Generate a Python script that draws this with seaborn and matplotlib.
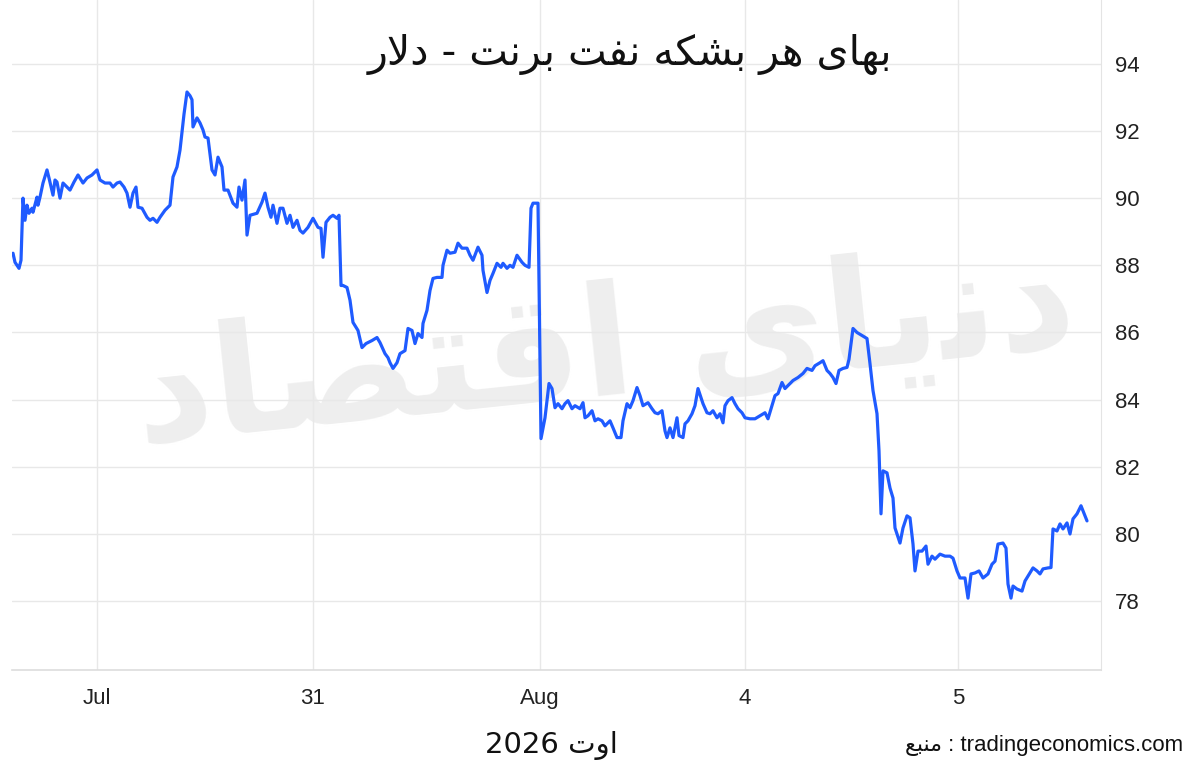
import matplotlib
matplotlib.use("Agg")
import matplotlib.pyplot as plt
import seaborn as sns
import pandas as pd

# ---- data ----
t_index = [13, 15, 19, 21, 23, 25, 27, 29, 32, 33, 37, 38, 40, 43, 47, 49, 53, 55, 57, 60,
           63, 67, 70, 74, 78, 83, 87, 92, 97, 100, 105, 110, 113, 117, 120, 124, 127, 130, 133, 136,
           138, 142, 147, 150, 153, 157, 160, 165, 170, 173, 177, 180, 184, 187, 190, 192, 193, 197, 200, 203,
           205, 208, 212, 215, 218, 222, 224, 228, 233, 237, 239, 242, 245, 247, 250, 257, 262, 265, 268, 271,
           273, 277, 280, 283, 287, 290, 293, 297, 300, 303, 308, 313, 318, 321, 323, 326, 330, 333, 337, 339,
           341, 343, 347, 350, 353, 358, 362, 366, 372, 377, 380, 385, 388, 390, 393, 397, 400, 405, 408, 412,
           415, 418, 422, 423, 427, 430, 433, 437, 442, 443, 447, 450, 455, 458, 462, 467, 470, 473, 478, 482,
           483, 487, 490, 493, 497, 501, 503, 507, 510, 513, 517, 522, 525, 529, 531, 533, 538, 541, 545, 549,
           552, 555, 558, 562, 565, 568, 572, 575, 580, 583, 585, 588, 592, 595, 598, 602, 605, 610, 613, 617,
           621, 623, 627, 630, 633, 637, 640, 643, 648, 652, 655, 658, 662, 665, 667, 670, 673, 677, 679, 683,
           685, 688, 692, 695, 698, 701, 703, 707, 710, 713, 717, 720, 723, 725, 728, 732, 735, 738, 742, 745,
           750, 755, 760, 765, 768, 772, 775, 778, 782, 785, 788, 793, 798, 803, 807, 812, 815, 820, 823, 827,
           830, 833, 836, 839, 843, 847, 849, 853, 857, 862, 867, 870, 873, 877, 879, 881, 883, 887, 890, 893,
           895, 900, 903, 907, 910, 913, 915, 918, 922, 926, 928, 932, 935, 940, 945, 950, 953, 957, 960, 965,
           968, 971, 975, 979, 983, 988, 992, 995, 998, 1003, 1006, 1008, 1011, 1013, 1017, 1022, 1025, 1030, 1033, 1037,
           1040, 1043, 1048, 1051, 1053, 1057, 1060, 1063, 1067, 1070, 1073, 1077, 1081, 1083, 1087]

brent = [88.36, 88.09, 87.91, 88.15, 90.0, 89.34, 89.79, 89.55, 89.7, 89.58, 90.03, 89.79, 90.03, 90.45, 90.84, 90.6, 90.09, 90.54, 90.48, 90.0,
         90.45, 90.33, 90.24, 90.48, 90.69, 90.45, 90.6, 90.69, 90.84, 90.54, 90.45, 90.45, 90.33, 90.45, 90.48, 90.33, 90.15, 89.73, 90.15, 90.33,
         89.73, 89.7, 89.43, 89.34, 89.4, 89.28, 89.43, 89.64, 89.79, 90.63, 90.93, 91.43, 92.5, 93.16, 93.05, 92.93, 92.12, 92.39, 92.24, 92.03,
         91.82, 91.79, 90.84, 90.69, 91.22, 90.93, 90.24, 90.24, 89.85, 89.73, 90.33, 89.94, 90.54, 88.9, 89.49, 89.55, 89.88, 90.15, 89.73, 89.43,
         89.79, 89.25, 89.7, 89.7, 89.25, 89.49, 89.13, 89.34, 89.04, 88.96, 89.13, 89.4, 89.13, 89.1, 88.24, 89.28, 89.43, 89.49, 89.4, 89.49,
         87.4, 87.4, 87.34, 86.96, 86.3, 86.06, 85.55, 85.67, 85.76, 85.85, 85.7, 85.37, 85.25, 85.1, 84.93, 85.1, 85.37, 85.46, 86.12, 86.06,
         85.67, 85.97, 85.85, 86.27, 86.66, 87.25, 87.61, 87.64, 87.64, 88.0, 88.45, 88.36, 88.39, 88.66, 88.51, 88.51, 88.3, 88.15, 88.54, 88.3,
         87.85, 87.19, 87.55, 87.76, 88.06, 87.94, 88.06, 87.91, 88.0, 87.94, 88.3, 88.09, 88.0, 87.94, 89.7, 89.85, 89.85, 82.84, 83.46, 84.48,
         84.33, 83.76, 83.88, 83.73, 83.88, 83.97, 83.73, 83.82, 83.73, 83.91, 83.46, 83.52, 83.67, 83.37, 83.43, 83.37, 83.22, 83.37, 83.16, 82.87,
         82.87, 83.37, 83.88, 83.76, 83.97, 84.36, 84.12, 83.82, 83.91, 83.73, 83.61, 83.58, 83.67, 83.07, 82.87, 83.16, 82.87, 83.46, 82.93, 82.87,
         83.28, 83.37, 83.58, 83.82, 84.33, 84.06, 83.88, 83.61, 83.58, 83.67, 83.46, 83.58, 83.31, 83.82, 83.97, 84.06, 83.88, 83.73, 83.61, 83.46,
         83.43, 83.43, 83.52, 83.61, 83.43, 83.82, 84.12, 84.18, 84.51, 84.33, 84.42, 84.57, 84.66, 84.78, 84.93, 84.87, 85.01, 85.1, 85.16, 84.87,
         84.78, 84.66, 84.48, 84.87, 84.93, 84.96, 85.2, 86.12, 86.0, 85.91, 85.82, 85.07, 84.27, 83.58, 82.48, 80.6, 81.88, 81.82, 81.37, 81.07,
         80.18, 79.73, 80.18, 80.54, 80.48, 79.7, 78.9, 79.49, 79.49, 79.64, 79.1, 79.34, 79.25, 79.4, 79.34, 79.34, 79.28, 78.9, 78.69, 78.69,
         78.09, 78.81, 78.84, 78.9, 78.69, 78.81, 79.1, 79.19, 79.7, 79.73, 79.58, 78.51, 78.09, 78.45, 78.36, 78.3, 78.6, 78.84, 78.99, 78.9,
         78.81, 78.96, 78.99, 79.0, 80.15, 80.09, 80.3, 80.15, 80.33, 80.0, 80.45, 80.6, 80.84, 80.69, 80.39]

x_tick_pos = [97, 313, 540, 745, 958]
x_tick_labels = ["Jul", "31", "Aug", "4", "5"]
y_ticks = [78, 80, 82, 84, 86, 88, 90, 92, 94]

# Persian texts (presentation forms, visual order)
title_text = "\uFEAD\uFEFB\uFEA9 - \uFE96\uFEE7\uFEAE\uFE91 \uFE96\uFED4\uFEE7 \uFEEA\uFB91\uFEB8\uFE91 \uFEAE\uFEEB \uFBFC\uFE8E\uFEEC\uFE91"
month_text = "2026 \uFE95\uFEED\uFE8D"
source_text = "\uFECA\uFE92\uFEE8\uFEE3 : tradingeconomics.com"
watermark_text = "\uFEA9\uFE8E\uFEBC\uFE98\uFED7\uFE8D \uFBFC\uFE8E\uFBFE\uFEE7\uFEA9"

df = pd.DataFrame({"t": t_index, "price": brent})

sns.set_style("white")
plt.rcParams["font.family"] = ["Liberation Sans", "DejaVu Sans"]

W, H = 1200, 765
fig = plt.figure(figsize=(W / 100, H / 100), dpi=100)
fig.patch.set_facecolor("white")

ax = fig.add_axes([12 / W, 1 - 670 / H, (1101 - 12) / W, 670 / H])

# watermark behind everything in the axes
ax.text(605 / W, 1 - 352 / H, watermark_text, transform=fig.transFigure,
        family=["DejaVu Sans"], fontsize=110, color="#eeeeee", ha="center", va="center",
        rotation=6, zorder=0.1, fontweight="bold", clip_on=False)

sns.lineplot(data=df, x="t", y="price", ax=ax, color="#1f5bff", linewidth=2.3, zorder=3)

ax.set_xlim(12, 1101)
ax.set_ylim(75.95, 95.9)
ax.set_xticks(x_tick_pos)
ax.set_xticklabels(x_tick_labels)
ax.set_yticks(y_ticks)
ax.yaxis.tick_right()
ax.tick_params(axis="both", length=0, labelsize=16, labelcolor="#222222")
ax.tick_params(axis="x", pad=13)
ax.tick_params(axis="y", pad=10)
ax.set_xlabel("")
ax.set_ylabel("")
ax.grid(True, color="#e8e8e8", linewidth=1.0, zorder=0.5)
ax.set_axisbelow(True)
for s in ["top", "left"]:
    ax.spines[s].set_visible(False)
ax.spines["right"].set_color("#e4e4e4")
ax.spines["bottom"].set_color("#dddddd")
ax.spines["bottom"].set_linewidth(1.2)

fig.text(630 / W, 1 - 54 / H, title_text, family=["DejaVu Sans"], fontsize=29.5,
         color="#111111", ha="center", va="center")
fig.text(551 / W, 1 - 745 / H, month_text, family=["DejaVu Sans"], fontsize=21,
         color="#111111", ha="center", va="center")
fig.text(1183 / W, 1 - 745 / H, source_text, fontsize=16,
         family=["Liberation Sans", "DejaVu Sans"],
         color="#111111", ha="right", va="center")

fig.savefig("out.png", dpi=100, facecolor="white")
